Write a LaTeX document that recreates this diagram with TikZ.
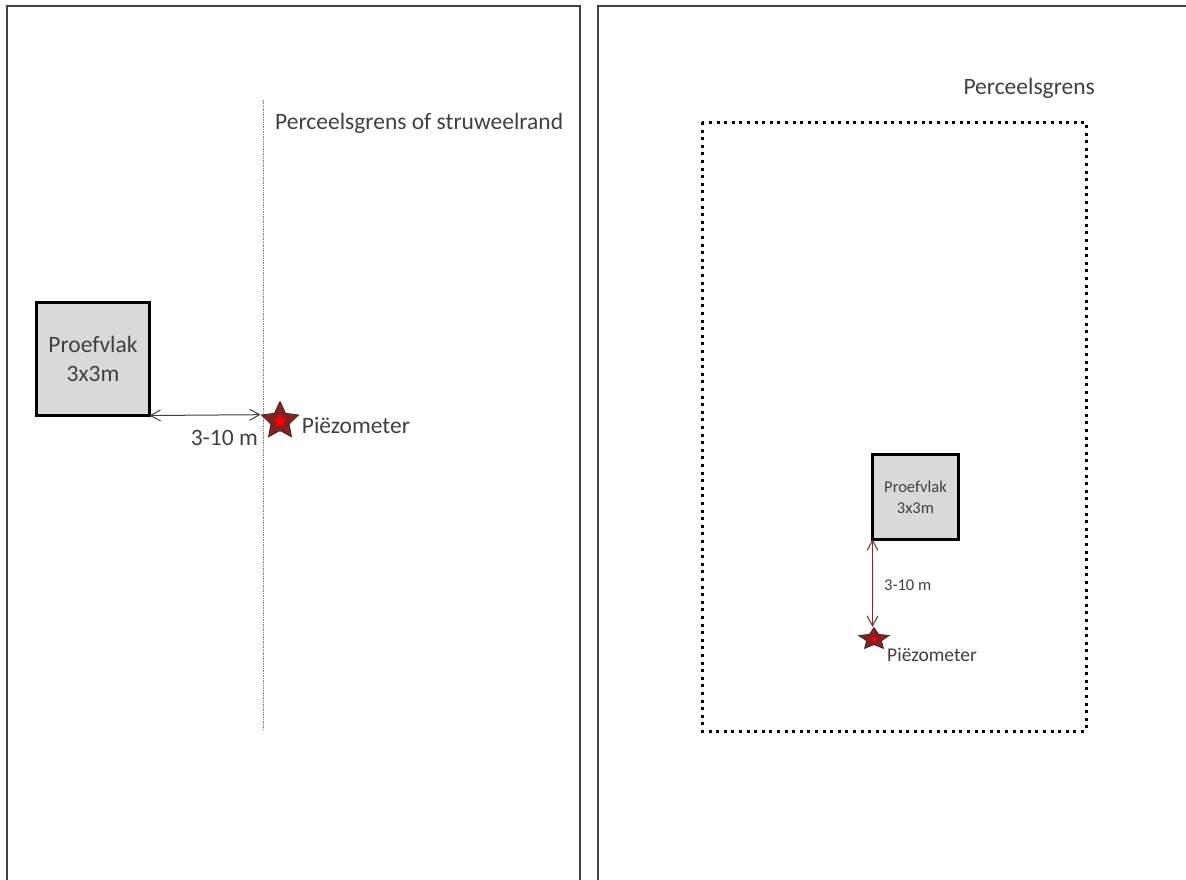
\documentclass[tikz,border=0pt]{standalone}
\usepackage{fontspec}
\setmainfont{Carlito}
\usepackage{tikz}
\usetikzlibrary{positioning}
\usetikzlibrary{arrows.meta}
\usetikzlibrary{shapes.geometric}
\definecolor{textgray}{HTML}{404040}
\definecolor{boxgray}{HTML}{D9D9D9}
\definecolor{stardark}{HTML}{7F2323}
\definecolor{starline}{HTML}{5A1A1A}
\definecolor{arrowred}{HTML}{7B2C2C}

\begin{document}
\begin{tikzpicture}[x=1pt, y=-1pt,
panel/.style={draw=black!75, line width=1.5pt},
plotbox/.style={rectangle, draw=black, fill=boxgray, line width=3pt, align=center, text=textgray, inner sep=0pt, outer sep=0pt},
bigtext/.style={text=textgray, font=\fontsize{23.5}{29}\selectfont, inner sep=1pt},
smalltext/.style={text=textgray, font=\fontsize{16.5}{21}\selectfont, inner sep=1pt},
outerstar/.style={star, star points=5, star point ratio=2.05, fill=stardark, draw=starline, line width=0.8pt, inner sep=0pt},
innerstar/.style={star, star points=5, star point ratio=2.3, fill=red, draw=none, inner sep=0pt},
measure/.style={{Straight Barb[length=10pt, width=11pt]}-{Straight Barb[length=10pt, width=11pt]}, line width=1pt},
]
\useasboundingbox (0,0) rectangle (1186,879);

%Panels
\draw[panel] (7,880) -- (7,6) -- (580,6) -- (580,880);
\draw[panel] (598,880) -- (598,6) -- (1187,6);

%Left panel
\draw[gray, line width=0.8pt, dash pattern=on 0.8pt off 0.9pt] (263,100) -- (263,730);
\node[bigtext, anchor=west] (edge) at (274,123) {Perceelsgrens of struweelrand};
\node[plotbox, minimum width=113pt, minimum height=113pt, font=\fontsize{23.5}{29}\selectfont] (lbox) at (93,359) {Proefvlak\\3x3m};
\node[outerstar, minimum size=39pt] (lstar) at (280,421) {};
\node[innerstar, minimum size=15pt] (lstarin) at (lstar.center) {};
\node[bigtext, right=8pt of lstar, yshift=-4pt] (lpiezo) {Piëzometer};
\node[bigtext, anchor=east] (ldist) at (259,438) {3-10 m};

%Right panel
\draw[black, line width=3pt, dash pattern=on 3pt off 4.6pt] (702,122) rectangle (1086,731);
\node[bigtext, anchor=east] (border) at (1096,88) {Perceelsgrens};
\node[plotbox, minimum width=86pt, minimum height=85pt, line width=3.2pt, font=\fontsize{16.5}{21}\selectfont] (rbox) at (915.5,497) {Proefvlak\\3x3m};
\node[outerstar, minimum size=32pt, yscale=0.72, transform shape] (rstar) at (874,639) {};
\node[innerstar, minimum size=8pt, yscale=0.72, transform shape] (rstarin) at (rstar.center) {};
\node[text=textgray, font=\fontsize{19.5}{24}\selectfont, inner sep=1pt, anchor=west] (rpiezo) at (886,655) {Piëzometer};
\node[smalltext, anchor=west] (rdist) at (883,585) {3-10 m};

%Lines
\draw[measure, black!75] (lbox.south east) -- (lstar.outer point 2);
\draw[measure, arrowred] (rbox.south west) -- (rbox.south west |- rstar.outer point 1);
\end{tikzpicture}
\end{document}
